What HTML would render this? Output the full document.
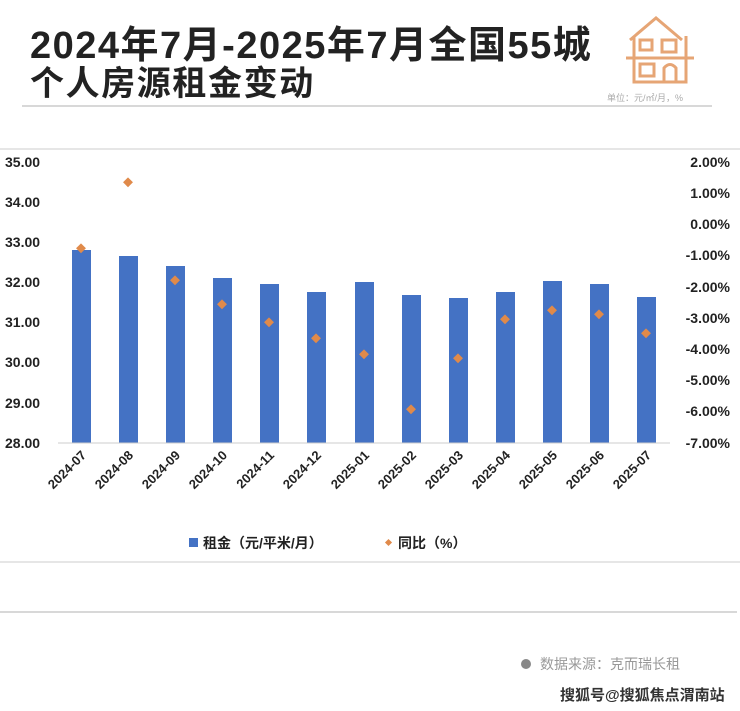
<!DOCTYPE html>
<html><head><meta charset="utf-8"><style>
body{margin:0;background:#fff;}
svg{display:block;font-family:"Liberation Sans","Noto Sans CJK SC",sans-serif;}
</style></head><body>
<svg width="740" height="711" viewBox="0 0 740 711" xmlns="http://www.w3.org/2000/svg">
<text x="30" y="58" font-size="38" font-weight="bold" fill="#222" letter-spacing="1.5">2024年7月-2025年7月全国55城</text>
<text x="30" y="95" font-size="34" font-weight="bold" fill="#222" letter-spacing="1.6">个人房源租金变动</text>
<g fill="none" stroke="#e6a575" stroke-width="3">
<path d="M630 40 L656 18 L682 40"/>
<path d="M634 36 V82 H686 V36"/>
<line x1="626" y1="58" x2="694" y2="58"/>
<rect x="640" y="64" width="14" height="12"/>
<path d="M664 82 V68 Q670 61 676 68 V82"/>
<rect x="662" y="40" width="14" height="12"/>
<rect x="640" y="40" width="12" height="10"/>
</g>
<text x="607" y="101" font-size="9" fill="#aaa">单位：元/㎡/月，%</text>
<line x1="22" y1="106" x2="712" y2="106" stroke="#ccc" stroke-width="1.5"/>
<line x1="0" y1="149" x2="740" y2="149" stroke="#ddd" stroke-width="1.5"/>
<g font-size="14" font-weight="bold" fill="#222">
<text x="5" y="167">35.00</text><text x="5" y="207">34.00</text><text x="5" y="247">33.00</text><text x="5" y="287">32.00</text><text x="5" y="327">31.00</text><text x="5" y="367">30.00</text><text x="5" y="408">29.00</text><text x="5" y="448">28.00</text>
</g>
<g font-size="14" font-weight="bold" fill="#222" text-anchor="end">
<text x="730" y="167">2.00%</text><text x="730" y="198">1.00%</text><text x="730" y="229">0.00%</text><text x="730" y="260">-1.00%</text><text x="730" y="292">-2.00%</text><text x="730" y="323">-3.00%</text><text x="730" y="354">-4.00%</text><text x="730" y="385">-5.00%</text><text x="730" y="416">-6.00%</text><text x="730" y="448">-7.00%</text>
</g>
<g fill="#4472c4">
<rect x="72" y="250" width="19" height="193"/>
<rect x="119" y="256" width="19" height="187"/>
<rect x="166" y="266" width="19" height="177"/>
<rect x="213" y="278" width="19" height="165"/>
<rect x="260" y="284" width="19" height="159"/>
<rect x="307" y="292" width="19" height="151"/>
<rect x="355" y="282" width="19" height="161"/>
<rect x="402" y="295" width="19" height="148"/>
<rect x="449" y="298" width="19" height="145"/>
<rect x="496" y="292" width="19" height="151"/>
<rect x="543" y="281" width="19" height="162"/>
<rect x="590" y="284" width="19" height="159"/>
<rect x="637" y="297" width="19" height="146"/>
</g>
<line x1="58" y1="443" x2="670" y2="443" stroke="#ccc"/>
<g fill="#e08a4a">
<rect x="77" y="245" width="7" height="7" transform="rotate(45 81 249)"/>
<rect x="124" y="179" width="7" height="7" transform="rotate(45 128 183)"/>
<rect x="171" y="277" width="7" height="7" transform="rotate(45 175 281)"/>
<rect x="218" y="301" width="7" height="7" transform="rotate(45 222 305)"/>
<rect x="265" y="319" width="7" height="7" transform="rotate(45 269 323)"/>
<rect x="312" y="335" width="7" height="7" transform="rotate(45 316 339)"/>
<rect x="360" y="351" width="7" height="7" transform="rotate(45 364 355)"/>
<rect x="407" y="406" width="7" height="7" transform="rotate(45 411 410)"/>
<rect x="454" y="355" width="7" height="7" transform="rotate(45 458 359)"/>
<rect x="501" y="316" width="7" height="7" transform="rotate(45 505 320)"/>
<rect x="548" y="307" width="7" height="7" transform="rotate(45 552 311)"/>
<rect x="595" y="311" width="7" height="7" transform="rotate(45 599 315)"/>
<rect x="642" y="330" width="7" height="7" transform="rotate(45 646 334)"/>
</g>
<g font-size="13" font-weight="bold" fill="#222" text-anchor="end">
<text transform="translate(87 456) rotate(-45)">2024-07</text>
<text transform="translate(134 456) rotate(-45)">2024-08</text>
<text transform="translate(181 456) rotate(-45)">2024-09</text>
<text transform="translate(228 456) rotate(-45)">2024-10</text>
<text transform="translate(275 456) rotate(-45)">2024-11</text>
<text transform="translate(322 456) rotate(-45)">2024-12</text>
<text transform="translate(370 456) rotate(-45)">2025-01</text>
<text transform="translate(417 456) rotate(-45)">2025-02</text>
<text transform="translate(464 456) rotate(-45)">2025-03</text>
<text transform="translate(511 456) rotate(-45)">2025-04</text>
<text transform="translate(558 456) rotate(-45)">2025-05</text>
<text transform="translate(605 456) rotate(-45)">2025-06</text>
<text transform="translate(652 456) rotate(-45)">2025-07</text>
</g>
<rect x="189" y="538" width="9" height="9" fill="#4472c4"/>
<text x="203" y="548" font-size="14" font-weight="bold" fill="#222">租金（元/平米/月）</text>
<rect x="386" y="540" width="5" height="5" fill="#e08a4a" transform="rotate(45 388.5 542.5)"/>
<text x="398" y="548" font-size="14" font-weight="bold" fill="#222">同比（%）</text>
<line x1="0" y1="562" x2="740" y2="562" stroke="#ddd" stroke-width="1.5"/>
<line x1="0" y1="612" x2="737" y2="612" stroke="#ccc" stroke-width="1.5"/>
<circle cx="526" cy="664" r="5" fill="#888"/>
<text x="540" y="669" font-size="14" fill="#999">数据来源：克而瑞长租</text>
<text x="560" y="700" font-size="15" font-weight="bold" fill="#333">搜狐号@搜狐焦点渭南站</text>
</svg>
</body></html>
